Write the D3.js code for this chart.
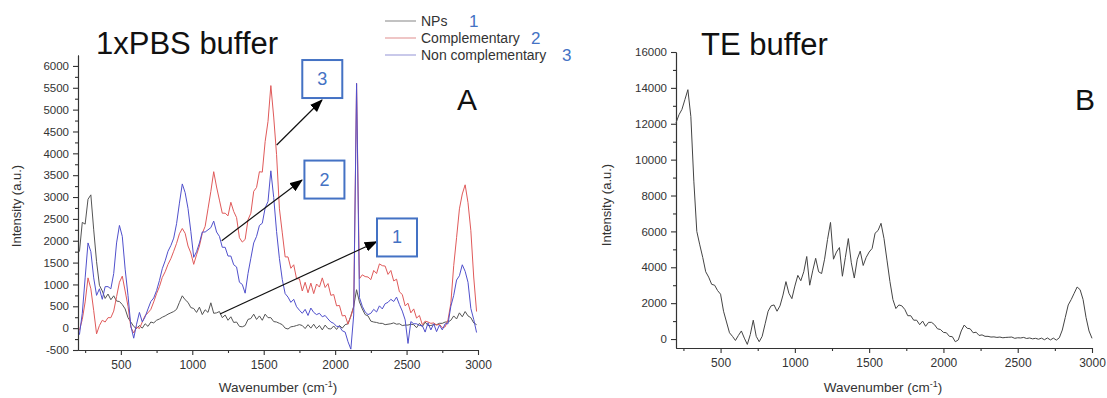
<!DOCTYPE html>
<html>
<head>
<meta charset="utf-8">
<script src="https://cdn.jsdelivr.net/npm/d3@7"></script>
<style>
  body { margin: 0; background: #fff; }
  svg text { font-family: "Liberation Sans", Arial, sans-serif; }
</style>
</head>
<body>
<div id="chart"></div>
<script>
// Panel A (1xPBS buffer): wavenumber grid shared by the three spectra
const waveA = [
  210,230,250,270,290,310,330,350,370,390,
  410,430,450,470,490,510,530,550,570,590,
  610,630,650,670,690,710,730,750,770,790,
  810,830,850,870,890,910,930,950,970,990,
  1010,1030,1050,1070,1090,1110,1130,1150,1170,1190,
  1210,1230,1250,1270,1290,1310,1330,1350,1370,1390,
  1410,1430,1450,1470,1490,1510,1530,1550,1570,1590,
  1610,1630,1650,1670,1690,1710,1730,1750,1770,1790,
  1810,1830,1850,1870,1890,1910,1930,1950,1970,1990,
  2010,2030,2050,2070,2090,2110,2130,2150,2170,2190,
  2210,2230,2250,2270,2290,2310,2330,2350,2370,2390,
  2410,2430,2450,2470,2490,2510,2530,2550,2570,2590,
  2610,2630,2650,2670,2690,2710,2730,2750,2770,2790,
  2810,2830,2850,2870,2890,2910,2930,2950,2970,2990
];
const npsA = [
  1750,2420,2380,2950,3050,2250,1520,980,850,680,
  780,650,740,620,610,540,440,240,140,40,
  -10,60,0,100,40,140,120,180,210,250,
  280,320,350,380,430,590,740,650,590,470,
  450,360,480,310,420,360,580,340,350,380,
  240,300,180,260,130,140,40,30,60,200,
  220,320,200,280,180,320,240,240,150,140,
  110,80,0,-20,30,40,60,80,60,-10,
  80,0,90,-10,60,-40,70,-10,-20,50,
  -30,60,0,80,100,280,500,880,600,440,
  310,280,160,140,130,110,110,80,90,100,
  120,90,100,60,70,70,90,80,10,110,
  30,140,60,60,80,80,110,110,140,140,
  180,280,210,350,260,380,280,240,120,80
];
const compA = [
  -50,200,600,1150,900,400,-130,60,180,140,
  240,240,390,720,1050,1190,850,500,20,-110,
  30,-10,140,290,350,430,600,790,950,1160,
  1290,1460,1590,1760,1940,2160,2280,2170,1880,1720,
  1460,1680,1880,2170,2330,2730,3130,3580,3230,2930,
  2630,2630,2570,2880,2670,2530,2070,1970,2030,2480,
  2630,3130,3220,3580,3570,4270,4730,5550,4830,3970,
  2730,2180,1630,1630,1370,1450,1130,1130,850,1050,
  810,1030,790,1010,940,1150,930,1020,750,770,
  510,520,280,290,90,270,480,5600,1130,1220,
  1180,1170,1110,1320,1250,1470,1430,1420,1230,1320,
  1080,1120,830,770,510,570,350,440,230,290,
  80,160,140,110,120,70,90,10,30,190,
  570,1430,2070,2730,3070,3280,2870,2230,1170,380
];
const nonCompA = [
  -150,340,1150,1950,1750,1150,750,900,660,950,
  950,900,1250,1950,2350,2100,1350,750,50,-230,
  90,360,140,260,440,610,690,860,1090,1360,
  1540,1760,1890,2060,2390,2860,3300,3100,2740,2210,
  1620,1750,1950,2200,2200,2250,2300,2450,2200,2100,
  1850,1850,1650,1650,1450,1400,1050,1000,800,1250,
  1600,1950,2100,2350,2400,2750,2900,3600,2990,2210,
  1590,1110,790,710,590,660,490,410,340,430,
  290,460,360,310,340,260,290,210,140,110,
  40,40,-60,-90,-310,-480,300,5600,700,500,
  370,310,340,430,370,510,440,560,590,660,
  610,710,540,390,190,-350,150,100,100,60,
  60,-90,120,-40,100,-80,70,-40,100,100,
  500,750,1100,1200,1450,1300,1050,450,200,-100
];

// Panel B (TE buffer)
const waveB = [
  200,220,240,260,280,300,320,340,360,380,
  400,420,440,460,480,500,520,540,560,580,
  600,620,640,660,680,700,720,740,760,780,
  800,820,840,860,880,900,920,940,960,980,
  1000,1020,1040,1060,1080,1100,1120,1140,1160,1180,
  1200,1220,1240,1260,1280,1300,1320,1340,1360,1380,
  1400,1420,1440,1460,1480,1500,1520,1540,1560,1580,
  1600,1620,1640,1660,1680,1700,1720,1740,1760,1780,
  1800,1820,1840,1860,1880,1900,1920,1940,1960,1980,
  2000,2020,2040,2060,2080,2100,2120,2140,2160,2180,
  2200,2220,2240,2260,2280,2300,2320,2340,2360,2380,
  2400,2420,2440,2460,2480,2500,2520,2540,2560,2580,
  2600,2620,2640,2660,2680,2700,2720,2740,2760,2780,
  2800,2820,2840,2860,2880,2900,2920,2940,2960,2980,
  3000
];
const teB = [
  12050,12500,12800,13350,13900,12400,8800,6000,5250,4550,
  3750,3450,3050,3000,2700,2500,1550,950,350,150,
  -80,200,450,50,-300,250,1050,150,-150,150,
  850,1550,1850,1900,1550,1850,2450,3200,2550,2250,
  2950,3550,3250,3750,4600,3000,3800,4500,3750,3650,
  4450,5550,6500,4450,4850,5100,3500,4550,5600,4250,
  3400,4450,4900,4100,4550,4850,5050,5900,6050,6450,
  5600,4400,3200,2200,1700,1900,1850,1650,1300,1300,
  1050,1050,800,1000,710,930,930,800,570,530,
  370,350,150,130,-150,-50,450,780,600,570,
  350,380,200,230,150,150,110,120,90,110,
  70,90,100,110,40,70,60,90,30,60,
  10,40,-10,50,-40,60,-50,50,-60,70,
  500,1200,1900,2200,2550,2900,2750,2200,1200,450,
  40
];

// Tick values
const xMajor = [500, 1000, 1500, 2000, 2500, 3000];
const xMinor = [250, 750, 1250, 1750, 2250, 2750];
const yMajorA = [-500, 0, 500, 1000, 1500, 2000, 2500, 3000, 3500, 4000, 4500, 5000, 5500, 6000];
const yMinorA = [-250, 250, 750, 1250, 1750, 2250, 2750, 3250, 3750, 4250, 4750, 5250, 5750];
const yMajorB = [0, 2000, 4000, 6000, 8000, 10000, 12000, 14000, 16000];
const yMinorB = [1000, 3000, 5000, 7000, 9000, 11000, 13000, 15000];

// Legend and annotations (panel A)
const seriesNames = ['NPs', 'Complementary', 'Non complementary'];
const seriesNums = ['1', '2', '3'];
const boxLabels = ['3', '2', '1'];
const boxWave = [1910, 1925, 2433];
const boxInt = [5700, 3400, 2075];
const arrowFromWave = [1591, 1206, 1194];
const arrowFromInt = [4190, 2000, 324];
const arrowToWave = [1908, 1768, 2291];
const arrowToInt = [5220, 3390, 1978];

const lineColors = ['#555555', '#e05a5a', '#5050cc'];
const legendColors = ['#9a9a9a', '#e4a0a0', '#a4a4dc'];
const blue = '#4472c4';

const svg = d3.select('#chart')
  .append('svg')
    .attr('width', 1107)
    .attr('height', 398)
    .style('background', '#fff');

// Scales
const xA = d3.scaleLinear().domain([200, 3000]).range([78, 478]);
const yA = d3.scaleLinear().domain([-500, 6250]).range([350, 55]);
const xB = d3.scaleLinear().domain([200, 3000]).range([676, 1092]);
const yB = d3.scaleLinear().domain([-500, 16000]).range([348, 52]);

function addAxes(x, y, yMajor, yMinor) {
  const left = x.range()[0];
  const bottom = y.range()[0];
  // minor ticks
  svg.append('g')
    .attr('transform', `translate(0,${bottom})`)
    .call(d3.axisBottom(x).tickValues(xMinor).tickSize(3).tickFormat('').tickSizeOuter(0));
  svg.append('g')
    .attr('transform', `translate(${left},0)`)
    .call(d3.axisLeft(y).tickValues(yMinor).tickSize(3).tickFormat('').tickSizeOuter(0));
  // major ticks with labels
  const xa = svg.append('g')
    .attr('transform', `translate(0,${bottom})`)
    .call(d3.axisBottom(x).tickValues(xMajor).tickSize(5).tickPadding(5)
      .tickSizeOuter(0).tickFormat(d => String(d)));
  const ya = svg.append('g')
    .attr('transform', `translate(${left},0)`)
    .call(d3.axisLeft(y).tickValues(yMajor).tickSize(5).tickPadding(4)
      .tickSizeOuter(0).tickFormat(d => String(d)));
  xa.selectAll('text').style('font-size', '12px').style('fill', '#333');
  ya.selectAll('text').style('font-size', '11.5px').style('fill', '#333');
  svg.selectAll('.domain, .tick line').attr('stroke', '#333').attr('stroke-width', 1.1);
}

function addAxisTitles(cx, cy, yLabelX) {
  const t = svg.append('text')
    .attr('x', cx)
    .attr('y', 392)
    .attr('text-anchor', 'middle')
    .style('font-size', '13.5px')
    .style('fill', '#333');
  t.append('tspan').text('Wavenumber (cm');
  t.append('tspan').attr('dy', -5).style('font-size', '9px').text('-1');
  t.append('tspan').attr('dy', 5).text(')');

  svg.append('text')
    .attr('transform', `translate(${yLabelX},${cy}) rotate(-90)`)
    .attr('text-anchor', 'middle')
    .style('font-size', '13px')
    .style('fill', '#333')
    .text('Intensity (a.u.)');
}

addAxes(xA, yA, yMajorA, yMinorA);
addAxes(xB, yB, yMajorB, yMinorB);
addAxisTitles(278, 206, 21);
addAxisTitles(883, 205, 611);

// Spectra
const lineA = d3.line().x((d, i) => xA(waveA[i])).y(d => yA(d));
[npsA, compA, nonCompA].forEach((s, k) => {
  svg.append('path')
    .datum(s)
    .attr('fill', 'none')
    .attr('stroke', lineColors[k])
    .attr('stroke-width', 1)
    .attr('stroke-linejoin', 'round')
    .attr('d', lineA);
});

const lineB = d3.line().x((d, i) => xB(waveB[i])).y(d => yB(d));
svg.append('path')
  .datum(teB)
  .attr('fill', 'none')
  .attr('stroke', '#444')
  .attr('stroke-width', 1)
  .attr('stroke-linejoin', 'round')
  .attr('d', lineB);

// Titles and panel letters
svg.append('text').attr('x', 96).attr('y', 54).style('font-size', '31px').style('fill', '#111').text('1xPBS buffer');
svg.append('text').attr('x', 701).attr('y', 55).style('font-size', '31px').style('fill', '#111').text('TE buffer');
svg.append('text').attr('x', 457).attr('y', 110).style('font-size', '30px').style('fill', '#111').text('A');
svg.append('text').attr('x', 1075).attr('y', 110).style('font-size', '30px').style('fill', '#111').text('B');

// Legend
const legend = svg.append('g').attr('transform', 'translate(385,21)');
seriesNames.forEach((name, i) => {
  const row = legend.append('g').attr('transform', `translate(0,${i * 17})`);
  row.append('line')
    .attr('x1', 0).attr('x2', 31)
    .attr('stroke', legendColors[i])
    .attr('stroke-width', 1.2);
  row.append('text')
    .attr('x', 36).attr('y', 5)
    .style('font-size', '14px')
    .style('fill', '#333')
    .text(name);
});
const numX = [84, 146, 177];
seriesNums.forEach((n, i) => {
  legend.append('text')
    .attr('x', numX[i]).attr('y', 6 + i * 17)
    .style('font-size', '17px')
    .style('fill', blue)
    .text(n);
});

// Arrows
svg.append('defs').append('marker')
  .attr('id', 'head')
  .attr('markerUnits', 'userSpaceOnUse')
  .attr('markerWidth', 13).attr('markerHeight', 10)
  .attr('refX', 12).attr('refY', 5)
  .attr('orient', 'auto')
  .append('path')
    .attr('d', 'M0,0 L13,5 L0,10 Z')
    .attr('fill', '#000');

arrowFromWave.forEach((w, i) => {
  svg.append('line')
    .attr('x1', xA(w)).attr('y1', yA(arrowFromInt[i]))
    .attr('x2', xA(arrowToWave[i])).attr('y2', yA(arrowToInt[i]))
    .attr('stroke', '#111')
    .attr('stroke-width', 1.2)
    .attr('marker-end', 'url(#head)');
});

// Numbered boxes
boxLabels.forEach((label, i) => {
  const cx = xA(boxWave[i]);
  const cy = yA(boxInt[i]);
  svg.append('rect')
    .attr('x', cx - 20).attr('y', cy - 19)
    .attr('width', 40).attr('height', 38)
    .attr('fill', '#fff')
    .attr('stroke', blue)
    .attr('stroke-width', 2);
  svg.append('text')
    .attr('x', cx).attr('y', cy + 6)
    .attr('text-anchor', 'middle')
    .style('font-size', '18px')
    .style('fill', blue)
    .text(label);
});
</script>
</body>
</html>
